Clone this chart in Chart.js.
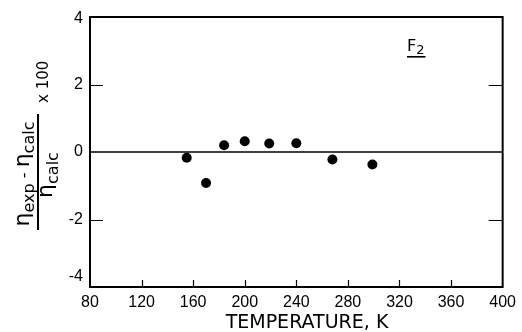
<!DOCTYPE html>
<html lang="en">
<head>
    <meta charset="UTF-8">
    <title>F2 viscosity deviation</title>
    <style>
body, html {
    margin: 0;
    padding: 0;
    background-color: #ffffff;
}
#devChart {
    display: block;
}
    </style>
    <script src="https://cdn.jsdelivr.net/npm/chart.js"></script>
</head>
<body>
    <canvas id="devChart" width="522" height="332"></canvas>

    <script>
        // values
        const temperatures = [155, 170, 184, 200, 219, 240, 268, 299];
        const deviations = [-0.17, -0.92, 0.2, 0.32, 0.25, 0.26, -0.22, -0.37];
        const xTicks = [80, 120, 160, 200, 240, 280, 320, 360, 400];
        const yTicks = [-4, -2, 0, 2, 4];
        const xTitle = 'TEMPERATURE, K';
        const gasLabel = 'F';

        const tickFont = '16px "Liberation Sans", sans-serif';

        // frame, inner ticks, y labels, axis titles
        const decorations = {
            id: 'decorations',
            afterDraw(chart) {
                const ctx = chart.ctx;
                const area = chart.chartArea;
                const xs = chart.scales.x;
                const ys = chart.scales.y;
                ctx.save();
                ctx.strokeStyle = '#000';
                ctx.fillStyle = '#000';

                // box
                ctx.lineWidth = 2;
                ctx.strokeRect(area.left, area.top, area.right - area.left, area.bottom - area.top);

                // inward ticks
                ctx.lineWidth = 1.2;
                ctx.beginPath();
                xTicks.slice(1, -1).forEach(v => {
                    const px = Math.round(xs.getPixelForValue(v)) + 0.5;
                    ctx.moveTo(px, area.bottom);
                    ctx.lineTo(px, area.bottom - 7);
                });
                [2, -2].forEach(v => {
                    const py = Math.round(ys.getPixelForValue(v)) + 0.5;
                    ctx.moveTo(area.left, py);
                    ctx.lineTo(area.left + 13, py);
                    ctx.moveTo(area.right, py);
                    ctx.lineTo(area.right - 14, py);
                });
                ctx.stroke();

                // y tick labels (-4 sits a bit above the corner)
                ctx.font = tickFont;
                ctx.textAlign = 'right';
                ctx.textBaseline = 'middle';
                yTicks.forEach(v => {
                    let py = ys.getPixelForValue(v);
                    if (v === -4) py -= 10;
                    if (v === 4) py += 2;
                    ctx.fillText(String(v), area.left - 7, py);
                });

                // x title
                ctx.font = '19px "DejaVu Sans", sans-serif';
                ctx.textAlign = 'center';
                ctx.textBaseline = 'alphabetic';
                ctx.fillText(xTitle, 307, 328);

                // F2 label, underlined
                ctx.textAlign = 'left';
                ctx.font = '16px "DejaVu Sans", sans-serif';
                ctx.fillText(gasLabel, 407, 51);
                const fw = ctx.measureText(gasLabel).width;
                ctx.font = '13px "DejaVu Sans", sans-serif';
                ctx.fillText('2', 407 + fw, 54);
                const sw = ctx.measureText('2').width;
                ctx.fillRect(407, 56, fw + sw + 1, 1.6);

                // y title: (eta_exp - eta_calc) / eta_calc x 100, rotated
                ctx.translate(38, 172);
                ctx.rotate(-Math.PI / 2);
                ctx.fillRect(-58, -1, 116, 2);

                const big = '22px "DejaVu Sans", sans-serif';
                const sub = '16px "DejaVu Sans", sans-serif';
                const parts = [
                    { t: '\u03b7', f: big, v: -9 },
                    { t: 'exp', f: sub, v: -4 },
                    { t: ' - ', f: sub, v: -9 },
                    { t: '\u03b7', f: big, v: -9 },
                    { t: 'calc', f: sub, v: -4 }
                ];
                let total = 0;
                parts.forEach(p => { ctx.font = p.f; p.w = ctx.measureText(p.t).width; total += p.w; });
                let u = -2 - total / 2;
                parts.forEach(p => { ctx.font = p.f; ctx.fillText(p.t, u, p.v); u += p.w; });

                const den = [
                    { t: '\u03b7', f: big, v: 14 },
                    { t: 'calc', f: sub, v: 20 }
                ];
                total = 0;
                den.forEach(p => { ctx.font = p.f; p.w = ctx.measureText(p.t).width; total += p.w; });
                u = -3 - total / 2;
                den.forEach(p => { ctx.font = p.f; ctx.fillText(p.t, u, p.v); u += p.w; });

                ctx.font = '15px "DejaVu Sans", sans-serif';
                ctx.fillText('x 100', 69, 10);

                ctx.restore();
            }
        };

        const ctx = document.getElementById('devChart').getContext('2d');
        new Chart(ctx, {
            type: 'scatter',
            data: {
                datasets: [{
                    data: temperatures.map((t, i) => ({ x: t, y: deviations[i] })),
                    backgroundColor: '#000',
                    borderWidth: 0,
                    pointRadius: 5,
                    pointHoverRadius: 5
                }, {
                    type: 'line',
                    data: [{ x: 80, y: 0 }, { x: 400, y: 0 }],
                    borderColor: '#000',
                    borderWidth: 1.5,
                    pointRadius: 0,
                    fill: false
                }]
            },
            options: {
                responsive: false,
                animation: false,
                layout: { padding: { left: 0, right: 16, top: 17, bottom: 0 } },
                plugins: {
                    legend: { display: false },
                    tooltip: { enabled: false }
                },
                scales: {
                    x: {
                        type: 'linear',
                        min: 80,
                        max: 400,
                        afterFit: s => { s.height = 45; },
                        afterBuildTicks: s => { s.ticks = xTicks.map(v => ({ value: v })); },
                        grid: { display: false, drawTicks: false },
                        border: { display: false },
                        ticks: {
                            color: '#000',
                            font: { family: 'Liberation Sans', size: 16 },
                            padding: 6,
                            autoSkip: false,
                            maxRotation: 0
                        }
                    },
                    y: {
                        type: 'linear',
                        min: -4,
                        max: 4,
                        afterFit: s => { s.width = 90; },
                        afterBuildTicks: s => { s.ticks = yTicks.map(v => ({ value: v })); },
                        grid: { display: false, drawTicks: false },
                        border: { display: false },
                        ticks: { display: false }
                    }
                }
            },
            plugins: [decorations]
        });
    </script>
</body>
</html>
